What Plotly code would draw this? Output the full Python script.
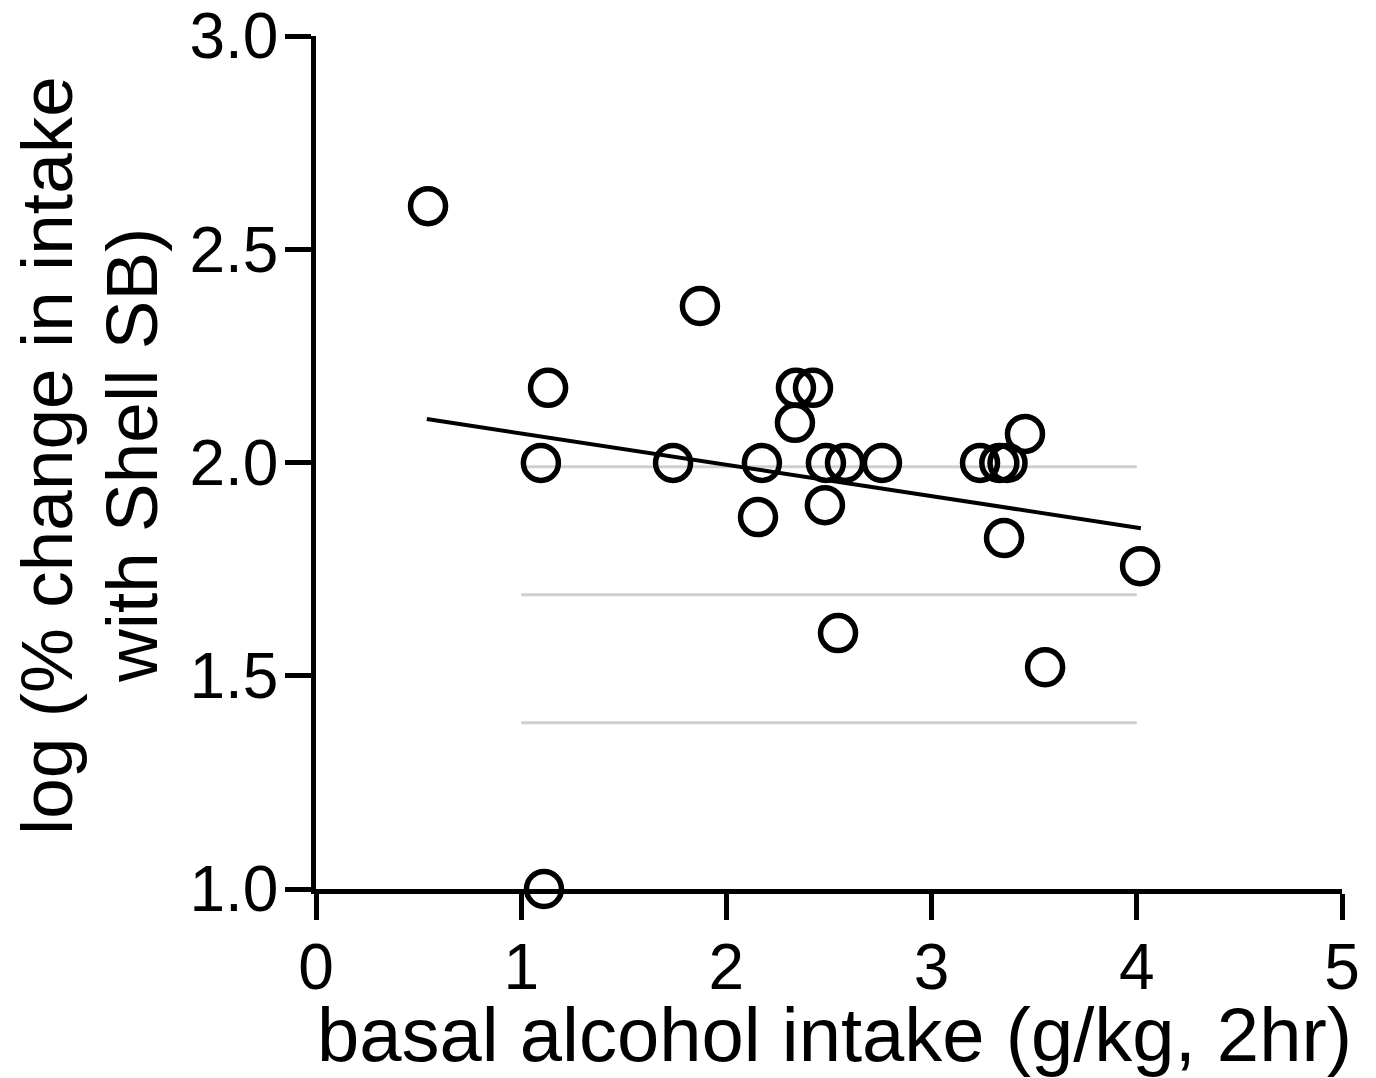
import plotly.graph_objects as go

# Data
basal_intake = [0.546, 1.131, 1.096, 1.111, 1.871, 1.740, 2.173, 2.154, 2.339, 2.422,
                2.334, 2.485, 2.578, 2.480, 2.544, 2.758, 3.236, 3.330, 3.370, 3.455,
                3.353, 3.553, 4.016]
log_change = [2.601, 2.175, 1.999, 1.000, 2.367, 1.999, 1.999, 1.872, 2.175, 2.175,
              2.093, 1.999, 1.999, 1.900, 1.600, 1.999, 1.999, 1.999, 1.999, 2.067,
              1.823, 1.520, 1.757]

fit_x = [0.54, 4.02]
fit_y = [2.102, 1.846]

ref_levels = [1.99, 1.69, 1.39]
ref_x = [1.0, 4.0]

x_ticks = [0, 1, 2, 3, 4, 5]
y_ticks = [1.0, 1.5, 2.0, 2.5, 3.0]

FONT = "Liberation Sans, Arial, sans-serif"
TICK_SIZE = 64
XTITLE_SIZE = 76
YTITLE_SIZE = 73

fig = go.Figure()

for lvl in ref_levels:
    fig.add_trace(go.Scatter(x=ref_x, y=[lvl, lvl], mode="lines",
                             line=dict(color="#cfcfcf", width=3),
                             showlegend=False, hoverinfo="skip"))

fig.add_trace(go.Scatter(x=fit_x, y=fit_y, mode="lines",
                         line=dict(color="black", width=4),
                         showlegend=False))

fig.add_trace(go.Scatter(x=basal_intake, y=log_change, mode="markers",
                         marker=dict(symbol="circle-open", size=35,
                                     color="black", line=dict(width=5.5)),
                         cliponaxis=False, showlegend=False))

axis_common = dict(showgrid=False, zeroline=False, showline=True, linecolor="black",
                   linewidth=4.5, ticks="outside", ticklen=26, tickwidth=4.5,
                   tickcolor="black", tickfont=dict(size=TICK_SIZE, family=FONT),
                   automargin=False, ticklabeloverflow="allow")

fig.update_layout(
    width=1376, height=1078,
    margin=dict(l=316, r=34, t=36, b=189),
    plot_bgcolor="white", paper_bgcolor="white",
    font=dict(family=FONT, color="black", size=XTITLE_SIZE),
    xaxis=dict(range=[0, 5], tickvals=x_ticks, ticktext=[str(v) for v in x_ticks],
               ticklabelstandoff=-8, **axis_common),
    yaxis=dict(range=[1, 3], tickvals=y_ticks, ticktext=[f"{v:.1f}" for v in y_ticks],
               ticklabelstandoff=-6, **axis_common),
    annotations=[
        dict(text="basal alcohol intake (g/kg, 2hr)", xref="paper", yref="paper",
             x=0.505, y=-0.171, xanchor="center", yanchor="middle",
             showarrow=False, font=dict(size=XTITLE_SIZE, family=FONT)),
        dict(text="log (% change in intake", xref="paper", yref="paper",
             x=(46 - 316) / 1026, y=0.5076, xanchor="center", yanchor="middle",
             textangle=-90, showarrow=False, font=dict(size=YTITLE_SIZE, family=FONT)),
        dict(text="with Shell SB)", xref="paper", yref="paper",
             x=(131 - 316) / 1026, y=0.5076, xanchor="center", yanchor="middle",
             textangle=-90, showarrow=False, font=dict(size=YTITLE_SIZE, family=FONT)),
    ],
)

fig.write_html("out.html")
